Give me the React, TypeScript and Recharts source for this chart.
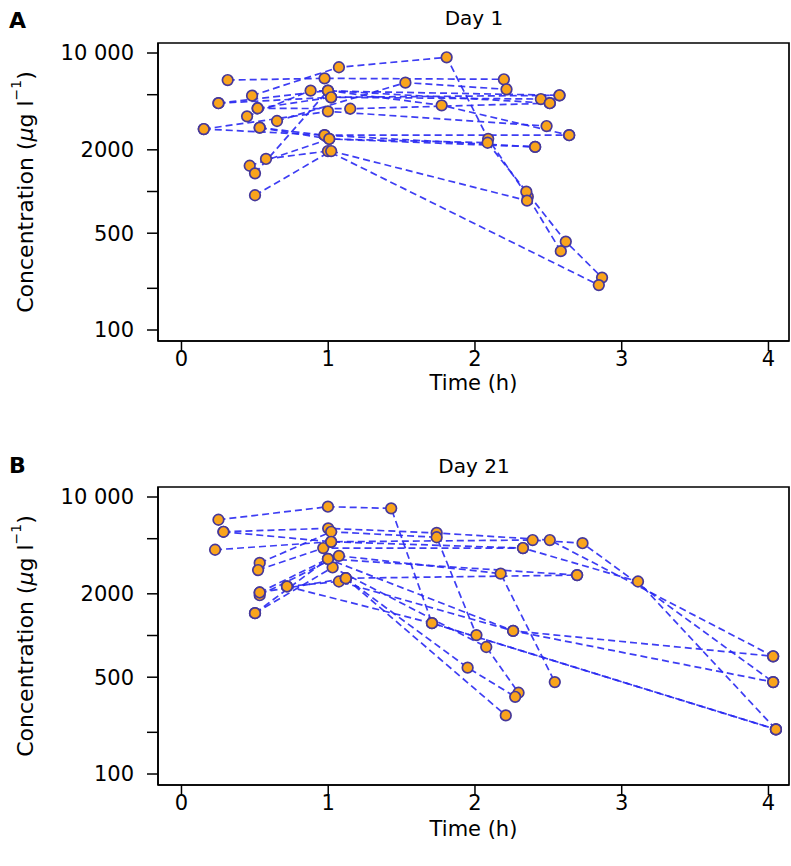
import React from 'react';
import { ScatterChart, Scatter, XAxis, YAxis, ReferenceArea } from 'recharts';

const FONT = 'DejaVu Sans';

const xTicks = [0, 1, 2, 3, 4];
const yTicks = [100, 200, 500, 1000, 2000, 5000, 10000];
const yTickLabels: Record<number, string> = { 100: '100', 500: '500', 2000: '2000', 10000: '10 000' };
const xDomain = [-0.16, 4.14];
const yDomain = [83.3, 11810];

// Day 1: sampling times (h) per patient
const day1Times = [
  [0.315, 0.975, 2.197],
  [0.252, 1.02, 2.449],
  [0.152, 0.998, 2.488],
  [0.481, 1.073, 1.807, 2.09, 2.36, 2.585],
  [0.447, 0.88, 2.576],
  [0.519, 1.15, 2.51],
  [0.533, 0.975, 2.41],
  [0.651, 1.526, 2.215],
  [0.465, 1.007, 2.086, 2.35, 2.619, 2.866],
  [0.501, 0.998, 1.773, 2.642],
  [0.576, 0.998, 2.844],
  [0.501, 1.02, 2.355],
  [0.252, 0.998, 2.51],
  [0.519, 1.02, 2.576],
  [0.152, 0.975, 2.642],
  [0.533, 1.007, 2.41],
];
// Day 1: concentrations (ug/l) per patient
const day1Conc = [
  [6380, 6560, 6460],
  [4340, 4790, 4650],
  [2825, 3790, 2970],
  [4920, 7890, 9310, 2400, 917, 371],
  [3490, 5350, 4950],
  [3990, 3960, 4340],
  [2890, 2550, 2100],
  [3230, 6110, 5470],
  [1535, 2395, 2250, 998, 435, 239],
  [1352, 5350, 4190, 2550],
  [1718, 1960, 211],
  [940, 1960, 859],
  [4340, 5350, 4340],
  [3990, 4790, 4950],
  [2825, 2550, 2550],
  [2890, 2395, 2100],
];

// Day 21: sampling times (h) per patient
const day21Times = [
  [0.252, 0.998, 1.429, 1.707, 4.051],
  [0.286, 1.0, 1.739, 2.51, 4.032],
  [0.229, 1.02, 2.393, 2.733, 4.032],
  [0.533, 1.02, 1.739, 2.01],
  [0.522, 0.966, 2.327, 3.111, 4.051],
  [0.533, 0.998, 2.696],
  [0.533, 1.073, 2.175, 2.544],
  [0.501, 1.03, 2.077, 2.297],
  [0.719, 1.073, 2.26, 4.032],
  [1.12, 1.95, 2.274],
  [1.12, 2.21],
  [0.286, 1.02, 2.327],
  [0.719, 1.707, 4.051],
  [0.533, 1.12, 2.696],
  [0.501, 0.998, 2.26, 4.032],
];
// Day 21: concentrations (ug/l) per patient
const day21Conc = [
  [6850, 8510, 8280, 1228, 210],
  [5610, 5940, 5500, 4890, 708],
  [4160, 4750, 4890, 4640, 461],
  [3340, 5610, 5120, 1007],
  [2970, 4280, 4280, 2455, 210],
  [2045, 3570, 2730],
  [1955, 3760, 2800, 461],
  [1450, 3100, 826, 386],
  [2260, 2455, 1080, 461],
  [2590, 586, 361],
  [2590, 265],
  [5610, 4750, 4280],
  [2260, 1228, 210],
  [2045, 2590, 2730],
  [1450, 3570, 1080, 708],
];

const Marker = (props: any) => (
  <circle cx={props.cx} cy={props.cy} r={5.3} fill="#F9A41C" stroke="#46389A" strokeWidth={1.7} />
);
const Empty = () => <g />;

const tickStyle = { fill: '#000', fontSize: 21, fontFamily: FONT };

function Panel({ times, conc, height, top, axisH }: any) {
  const patients = times.map((ts: number[], i: number) => ts.map((t, j) => ({ t, c: conc[i][j] })));
  const all = patients.flat();
  return (
    <ScatterChart width={791} height={height} margin={{ top, right: 2, bottom: 0, left: 0 }}>
      <XAxis
        type="number"
        dataKey="t"
        domain={xDomain}
        ticks={xTicks}
        interval={0}
        allowDataOverflow
        height={axisH}
        tickSize={10}
        tickMargin={0}
        tick={tickStyle}
        axisLine={{ stroke: '#000', strokeWidth: 1.5 }}
        tickLine={{ stroke: '#000', strokeWidth: 1.5 }}
        label={{ value: 'Time (h)', position: 'insideBottom', offset: 30, fill: '#000', fontSize: 21, fontFamily: FONT }}
      />
      <YAxis
        type="number"
        dataKey="c"
        scale="log"
        domain={yDomain}
        ticks={yTicks}
        interval={0}
        allowDataOverflow
        width={158}
        tickSize={11}
        tickMargin={13}
        tick={tickStyle}
        tickFormatter={(v: number) => yTickLabels[v] ?? ''}
        axisLine={{ stroke: '#000', strokeWidth: 1.5 }}
        tickLine={{ stroke: '#000', strokeWidth: 1.5 }}
      />
      {patients.map((p: any[], i: number) => (
        <Scatter
          key={i}
          data={p}
          line={{ stroke: '#2828f2', strokeWidth: 1.7, strokeDasharray: '7 4', strokeOpacity: 0.9 }}
          lineType="joint"
          shape={Empty}
          isAnimationActive={false}
        />
      ))}
      <Scatter data={all} shape={Marker} isAnimationActive={false} />
      <ReferenceArea
        x1={xDomain[0]}
        x2={xDomain[1]}
        y1={yDomain[0]}
        y2={yDomain[1]}
        fill="none"
        stroke="#000"
        strokeWidth={1.7}
        ifOverflow="visible"
      />
    </ScatterChart>
  );
}

function YLabel({ cx, cy }: { cx: number; cy: number }) {
  return (
    <text
      x={cx}
      y={cy}
      transform={`rotate(-90 ${cx} ${cy})`}
      textAnchor="middle"
      dominantBaseline="central"
      fontFamily={FONT}
      fontSize={22}
      fill="#000"
    >
      Concentration (<tspan fontStyle="italic">μ</tspan>g l
      <tspan fontSize={14} dy={-9}>−1</tspan>
      <tspan dy={9}>)</tspan>
    </text>
  );
}

export default function App() {
  return (
    <div style={{ position: 'absolute', left: 0, top: 0, width: 791, height: 866, background: '#fff' }}>
      <div style={{ position: 'absolute', left: 0, top: 0 }}>
        <Panel times={day1Times} conc={day1Conc} height={420} top={43} axisH={79} />
      </div>
      <div style={{ position: 'absolute', left: 0, top: 433 }}>
        <Panel times={day21Times} conc={day21Conc} height={433} top={54} axisH={81} />
      </div>
      <svg width={791} height={866} style={{ position: 'absolute', left: 0, top: 0, pointerEvents: 'none' }}>
        <text x={9} y={28} fontFamily={FONT} fontWeight="bold" fontSize={22} fill="#000">A</text>
        <text x={474} y={25} fontFamily={FONT} fontSize={20} textAnchor="middle" fill="#000">Day 1</text>
        <text x={9} y={473} fontFamily={FONT} fontWeight="bold" fontSize={22} fill="#000">B</text>
        <text x={474} y={473} fontFamily={FONT} fontSize={20} textAnchor="middle" fill="#000">Day 21</text>
        <YLabel cx={25} cy={192} />
        <YLabel cx={25} cy={636} />
      </svg>
    </div>
  );
}
